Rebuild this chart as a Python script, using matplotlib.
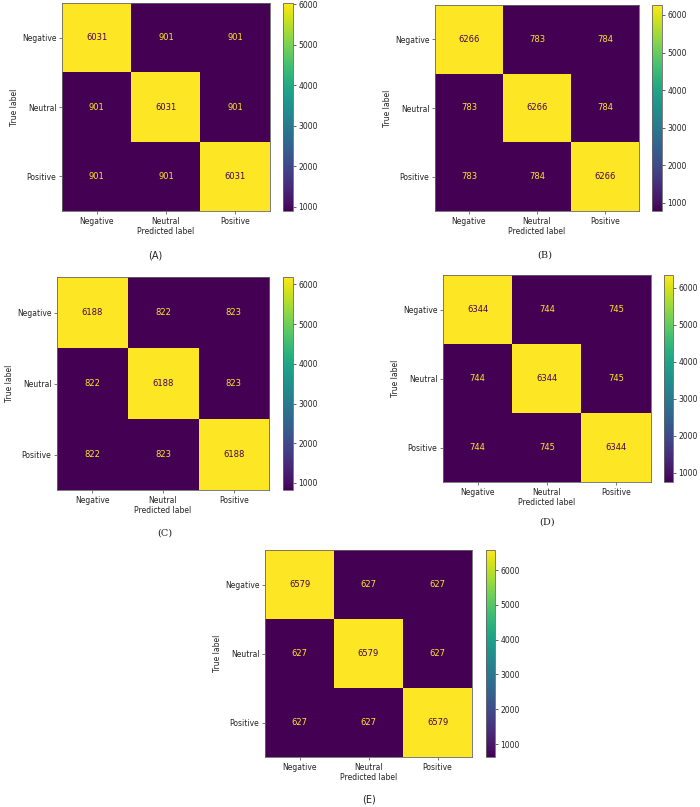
import matplotlib
matplotlib.use("Agg")
import matplotlib.pyplot as plt
import numpy as np

classes = ["Negative", "Neutral", "Positive"]

cm_a = [[6031, 901, 901],
        [901, 6031, 901],
        [901, 901, 6031]]
cm_b = [[6266, 783, 784],
        [783, 6266, 784],
        [783, 784, 6266]]
cm_c = [[6188, 822, 823],
        [822, 6188, 823],
        [822, 823, 6188]]
cm_d = [[6344, 744, 745],
        [744, 6344, 745],
        [744, 745, 6344]]
cm_e = [[6579, 627, 627],
        [627, 6579, 627],
        [627, 627, 6579]]

panel_names = ["(A)", "(B)", "(C)", "(D)", "(E)"]
matrices = [cm_a, cm_b, cm_c, cm_d, cm_e]
cbar_ticks = [1000, 2000, 3000, 4000, 5000, 6000]

W, H = 700, 807

# pixel boxes: heatmap (x0, y0, x1, y1), colorbar (x0, x1), caption (x, y, family)
layout = [
    ((62, 3, 270, 211), (283, 293), (155, 256, "DejaVu Sans")),
    ((435, 5, 639, 211), (652, 662), (545, 255, "DejaVu Serif")),
    ((57, 277, 269, 490), (283, 293), (165, 533, "DejaVu Serif")),
    ((443, 275, 651, 482), (664, 673), (547, 522, "DejaVu Serif")),
    ((265, 550, 472, 757), (486, 495), (369, 800, "DejaVu Sans")),
]


def box(x0, y0, x1, y1):
    return [x0 / W, 1 - y1 / H, (x1 - x0) / W, (y1 - y0) / H]


fig = plt.figure(figsize=(W / 100, H / 100), dpi=100)
cmap = plt.get_cmap("viridis")
fs = 5.5
txt = "#222222"

for name, cm, (hb, cb, cap) in zip(panel_names, matrices, layout):
    data = np.array(cm)
    ax = fig.add_axes(box(*hb))
    im = ax.imshow(data, cmap=cmap, aspect="auto", interpolation="nearest")
    lo, hi = data.min(), data.max()
    thresh = (lo + hi) / 2.0
    for i in range(data.shape[0]):
        for j in range(data.shape[1]):
            col = cmap(0.0) if data[i, j] > thresh else cmap(1.0)
            ax.text(j, i, str(data[i, j]), ha="center", va="center",
                    color=col, fontsize=6)
    ax.set_xticks(range(len(classes)))
    ax.set_yticks(range(len(classes)))
    ax.set_xticklabels(classes, fontsize=fs, color=txt)
    ax.set_yticklabels(classes, fontsize=fs, color=txt)
    ax.set_xlabel("Predicted label", fontsize=fs, color=txt, labelpad=1)
    ax.set_ylabel("True label", fontsize=fs, color=txt, labelpad=2)
    ax.tick_params(length=2.5, width=0.5, pad=1.5, color="#444444")
    for s in ax.spines.values():
        s.set_color("#666666")
        s.set_linewidth(0.6)

    cax = fig.add_axes(box(cb[0], hb[1], cb[1], hb[3]))
    cbar = fig.colorbar(im, cax=cax, ticks=cbar_ticks)
    cbar.ax.tick_params(labelsize=fs, length=2.5, width=0.5, pad=1.5,
                        colors=txt)
    cbar.outline.set_linewidth(0.6)
    cbar.outline.set_edgecolor("#666666")

    fig.text(cap[0] / W, 1 - cap[1] / H, name, ha="center", va="center",
             fontsize=7, family=cap[2], color=txt)

fig.savefig("out.png", dpi=100, facecolor="white")
